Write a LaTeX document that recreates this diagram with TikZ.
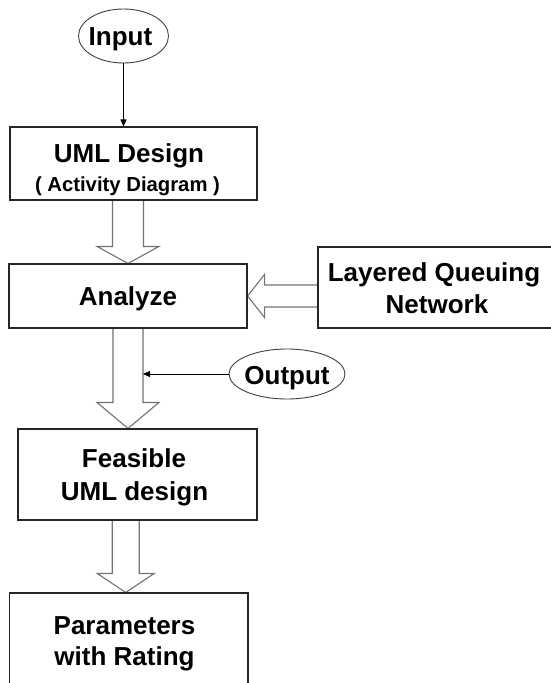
\documentclass[tikz,border=0pt]{standalone}
\usepackage{fontspec}
\setmainfont{Liberation Sans}
\usetikzlibrary{arrows.meta,calc,shapes.geometric,backgrounds}

\tikzset{
  box/.style={draw=black!85, line width=1.1pt, inner sep=0pt},
  oval/.style={ellipse, draw=black!75, line width=0.9pt, inner sep=0pt},
  lbl/.style={inner sep=0pt, anchor=base, font=\bfseries\fontsize{26}{30}\selectfont},
  sublbl/.style={inner sep=0pt, anchor=base, font=\bfseries\fontsize{20.3}{24}\selectfont},
  thinarrow/.style={draw=black, line width=0.8pt, -{Triangle[length=7pt,width=6pt]}},
  fatarrow/.style={draw=black!55, line width=1.1pt, fill=white, line join=miter},
}

% hollow arrow pointing down: #1 start of shaft, #2 tip,
% #3 half shaft width, #4 half head width, #5 head length
\newcommand\downblock[5]{%
  \filldraw[fatarrow] ($(#1)+(-#3,0)$) -- ($(#2)+(-#3,-#5)$) -- ($(#2)+(-#4,-#5)$)
    -- (#2) -- ($(#2)+(#4,-#5)$) -- ($(#2)+(#3,-#5)$) -- ($(#1)+(#3,0)$);}
% hollow arrow pointing left, same arguments
\newcommand\leftblock[5]{%
  \filldraw[fatarrow] ($(#1)+(0,-#3)$) -- ($(#2)+(#5,-#3)$) -- ($(#2)+(#5,-#4)$)
    -- (#2) -- ($(#2)+(#5,#4)$) -- ($(#2)+(#5,#3)$) -- ($(#1)+(0,#3)$);}

\begin{document}
\begin{tikzpicture}[x=1pt,y=-1pt]
\useasboundingbox (0,0) rectangle (550,683);

% frames
\node[oval, minimum width=90pt, minimum height=54pt] (input) at (123.5,36) {};
\node[box, minimum width=247pt, minimum height=73pt] (uml) at (133.5,163.5) {};
\node[box, minimum width=238pt, minimum height=64pt] (analyze) at (128,296) {};
\node[box, minimum width=240pt, minimum height=81pt] (lqn) at (438,287.5) {};
\node[oval, minimum width=116pt, minimum height=50pt] (output) at (287,374) {};
\node[box, minimum width=239pt, minimum height=91pt] (feasible) at (137.5,474.5) {};
\node[box, minimum width=238.5pt, minimum height=95pt] (params) at (128.75,640.5) {};

% texts
\node[lbl] (inputT) at (120.5,45) {Input};
\node[lbl] (umlT) at (129,162) {UML Design};
\node[sublbl] (umlS) at (127.5,191) {( Activity Diagram )};
\node[lbl] (analyzeT) at (128,305.5) {Analyze};
\node[lbl] (lqnT) at (434,281) {Layered Queuing};
\node[lbl] (lqnS) at (437,313) {Network};
\node[lbl] (outputT) at (287,384) {Output};
\node[lbl] (feasibleT) at (134,467) {Feasible};
\node[lbl] (feasibleS) at (134.5,500) {UML design};
\node[lbl] (paramsT) at (124.5,634) {Parameters};
\node[lbl] (paramsS) at (124.5,665) {with Rating};

\coordinate (tip3) at ($(params.north)+(-3,0)$);
\coordinate (shaftedge) at ($(analyze.south)+(15,0)$);

\begin{scope}[on background layer]
  \fill[white] (0,0) rectangle (550,683);
  \downblock{uml.south -| analyze.north}{analyze.north}{15.5}{31}{17}
  \downblock{analyze.south}{feasible.north -| analyze.south}{15}{31}{26}
  \downblock{feasible.south -| tip3}{tip3}{13.5}{28.5}{19}
  \leftblock{lqn.west |- analyze.east}{analyze.east}{11}{21.5}{17}
\end{scope}

% thin connectors
\draw[thinarrow] (input.south) -- (input.south |- uml.north);
\draw[thinarrow] (output.west) -- (output.west -| shaftedge);
\end{tikzpicture}
\end{document}
